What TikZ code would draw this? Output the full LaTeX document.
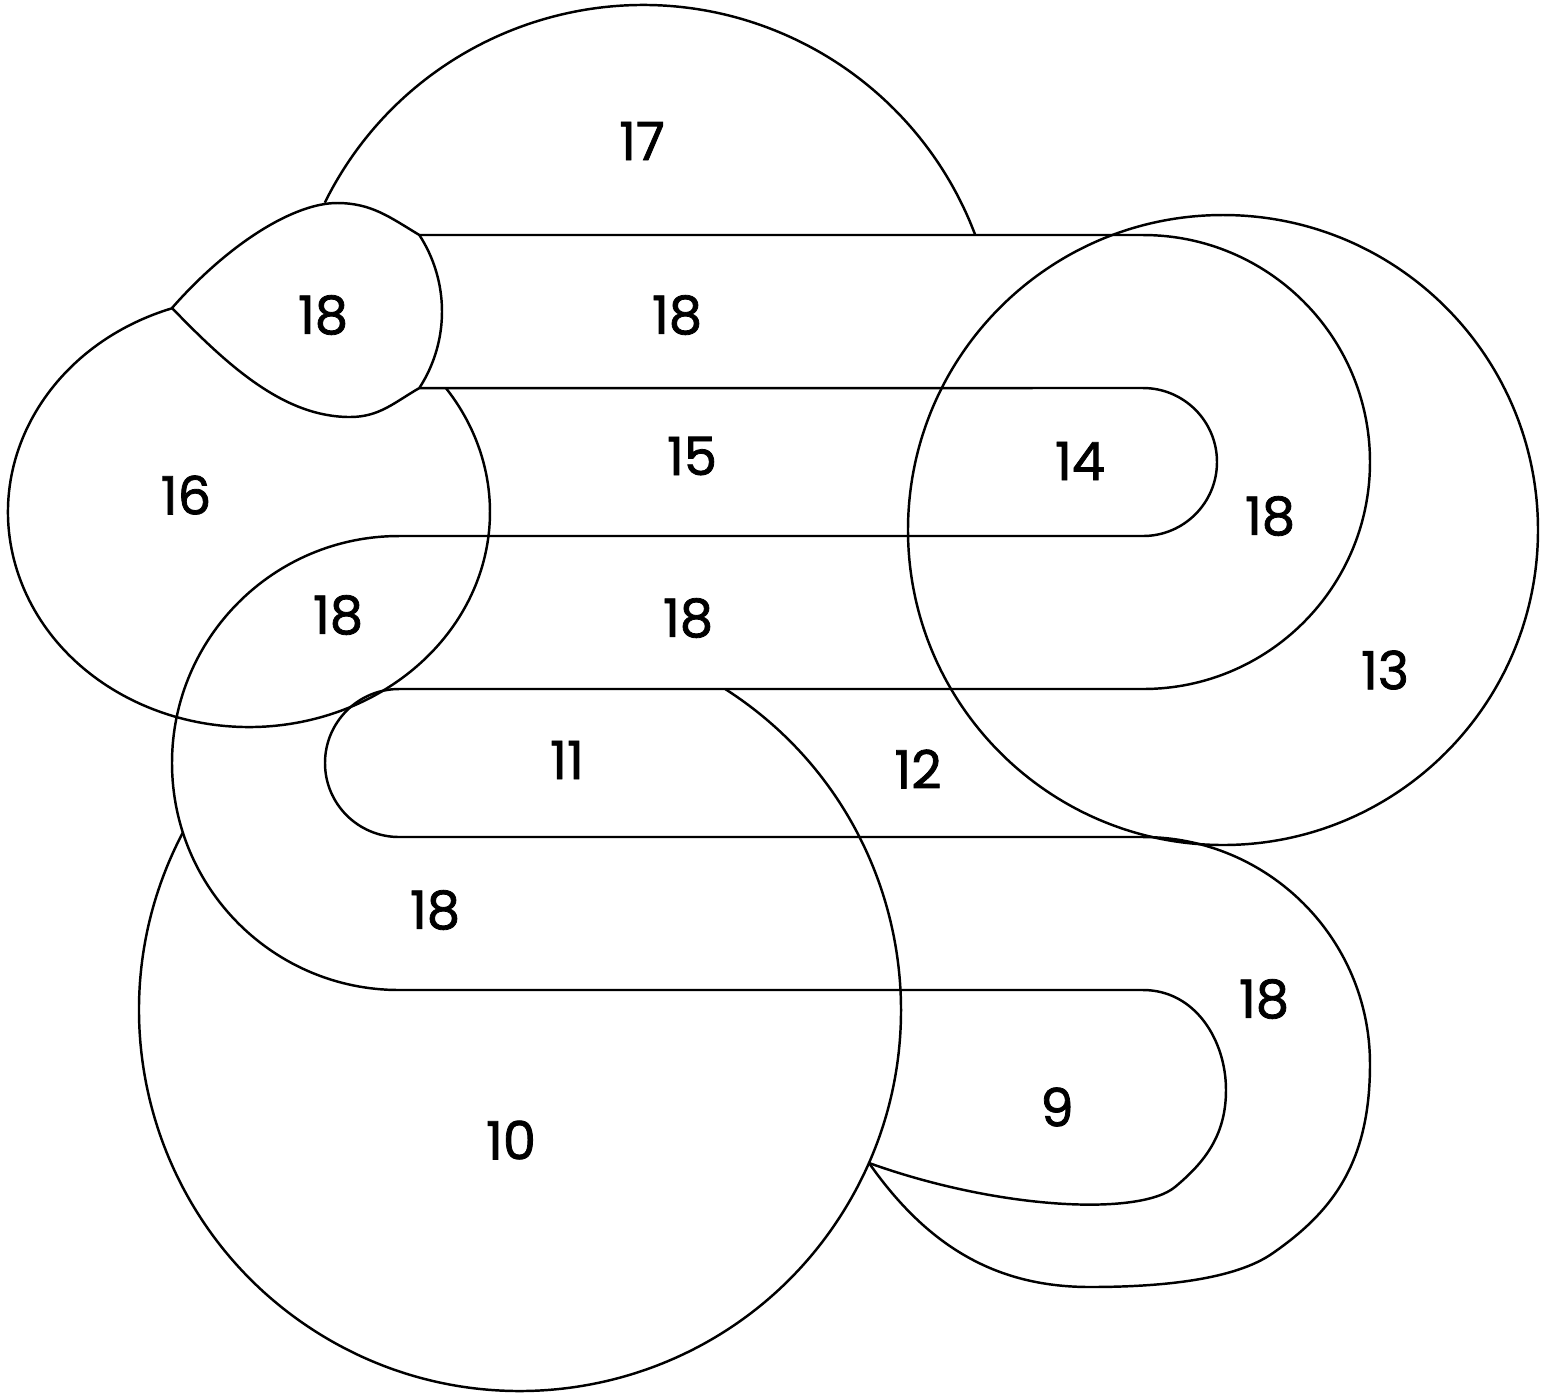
\documentclass[tikz,border=0pt]{standalone}
\usepackage{fontspec}
\setmainfont{Poppins}
\newfontfamily\numfont{Poppins}[FakeBold=1.5]
\usepackage{tikz}
\usetikzlibrary{calc}

\begin{document}
\begin{tikzpicture}[line width=0.7pt, num/.style={font=\numfont\fontsize{15}{18}\selectfont,inner sep=0pt}]
\useasboundingbox (0,0) rectangle (15.49,-13.93);
% sharp ends and band starts
\coordinate (tipL) at (1.72,-3.08);
\coordinate (tipR) at (8.69,-11.63);
\coordinate (dc) at (3.015,-3.115);
\coordinate (top1) at ($(dc)+(33:1.405)$);
% teardrop
\draw (tipL) .. controls (2.30,-2.42) and (2.95,-2.03) .. (3.37,-2.03) to[out=0,in=149] (top1)
  arc[start angle=33,end angle=-33,radius=1.405] coordinate (top2)
  to[out=210,in=0] (3.50,-4.17) .. controls (2.85,-4.17) and (2.30,-3.68) .. (tipL);
% big arc on top
\draw ([shift={(153.7:3.55)}]6.43,-3.60) arc[start angle=153.7,end angle=20.6,radius=3.55];
% left oval
\draw ([shift={(108.6:2.41 and 2.15)}]2.49,-5.12) arc[start angle=108.6,end angle=395.2,x radius=2.41,y radius=2.15];
% right circle
\draw (12.23,-5.30) circle[radius=3.15];
% bottom circle
\draw ([shift={(57.4:3.81)}]5.20,-10.10) arc[start angle=57.4,end angle=-207.76,radius=3.81];
% band, outer edge
\draw (top1) -- (11.43,-2.35) arc[start angle=90,end angle=-90,radius=2.27] -- (3.99,-6.89)
  arc[start angle=90,end angle=270,radius=0.74] -- (11.43,-8.37) arc[start angle=90,end angle=0,radius=2.27]
  .. controls (13.70,-11.60) and (13.35,-12.10) .. (12.73,-12.53)
  .. controls (12.35,-12.80) and (11.60,-12.87) .. (10.90,-12.87)
  .. controls (10.00,-12.87) and (9.30,-12.50) .. (tipR);
% band, inner edge
\draw (top2) -- (11.43,-3.88) arc[start angle=90,end angle=-90,radius=0.74] -- (3.99,-5.36)
  arc[start angle=90,end angle=270,radius=2.27] -- (11.43,-9.90)
  .. controls (11.95,-9.90) and (12.26,-10.40) .. (12.26,-10.90)
  .. controls (12.26,-11.35) and (12.05,-11.62) .. (11.75,-11.87)
  .. controls (11.40,-12.16) and (10.00,-12.10) .. (tipR);
% numbers
\node[num] (r17) at (6.42,-1.41) {17};
\node[num] (r18a) at (3.23,-3.15) {18};
\node[num] (r18b) at (6.77,-3.15) {18};
\node[num] (r16) at (1.86,-4.95) {16};
\node[num] (r15) at (6.92,-4.56) {15};
\node[num] (r14) at (10.80,-4.61) {14};
\node[num] (r18c) at (12.70,-5.16) {18};
\node[num] (r18d) at (3.38,-6.15) {18};
\node[num] (r18e) at (6.88,-6.18) {18};
\node[num] (r13) at (13.85,-6.70) {13};
\node[num] (r11) at (5.67,-7.60) {11};
\node[num] (r12) at (9.18,-7.69) {12};
\node[num] (r18f) at (4.35,-9.10) {18};
\node[num] (r18g) at (12.64,-9.99) {18};
\node[num] (r9) at (10.57,-11.07) {9};
\node[num] (r10) at (5.11,-11.40) {10};
\end{tikzpicture}
\end{document}
